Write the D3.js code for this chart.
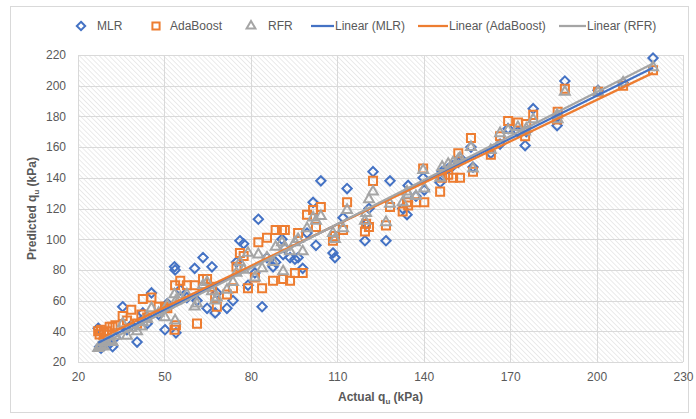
<!DOCTYPE html>
<html>
<head>
<meta charset="utf-8">
<script src="https://cdn.jsdelivr.net/npm/d3@7"></script>
<style>
  body { margin: 0; background: #fff; }
  svg { display: block; font-family: "Liberation Sans", Arial, sans-serif; }
</style>
</head>
<body>
<div id="chart"></div>
<script>
// Actual vs predicted qu (kPa) for the three models
const actual = [27, 27.5, 28, 29, 30, 31, 32, 33, 35.5, 37, 38.5, 40.5, 42, 42.5, 44, 45.5, 48, 50.2, 51, 53.5,
  53.7, 54, 55.5, 57.8, 60.5, 61.3, 63.4, 64.8, 66.5, 67.6, 68.2, 71.7, 73.8, 75, 76.2, 77.5, 79, 81.4, 82.6, 83.9,
  85.6, 87.7, 88.6, 90.8, 91.2, 91.8, 93.6, 95.3, 96.4, 98, 99.5, 101.6, 102.6, 104.3, 108.5, 109.2, 112, 113.4, 119.6, 120,
  121, 122.4, 126.9, 128.3, 132.7, 134.2, 134.6, 137.3, 139.8, 140.2, 145.7, 146.4, 148.5, 150.2, 152.6, 152, 156.4, 157.1, 163.3, 166.5,
  169.3, 172.7, 175.2, 175.6, 178, 186.3, 186.5, 189, 200.5, 209.2, 219.6];
const mlr = [42, 30, 29, 31, 33, 32, 30, 36, 56, 41, 44, 33, 47, 52, 45, 65, 51, 41, 58, 82,
  80, 39, 67, 62, 81, 60, 88, 55, 82, 52, 65, 55, 60, 85, 99, 97, 70, 78, 113, 56,
  88, 82, 85, 100, 90, 94, 88, 87, 88, 81, 104, 124, 96, 138, 91, 88, 114, 133, 99, 110,
  120, 144, 99, 138, 120, 116, 135, 128, 140, 132, 137, 144, 146, 148, 153, 150, 160, 147, 156, 162,
  172, 170, 161, 170, 185, 174, 180, 203, 197, 202, 218];
const adaboost = [40, 38, 41, 39, 40, 43, 43, 44, 50, 47, 54, 45, 51, 61, 49, 62, 56, 56, 55, 41,
  70, 44, 73, 70, 70, 45, 74, 74, 69, 62, 56, 64, 68, 82, 91, 89, 68, 75, 98, 68,
  101, 73, 106, 106, 74, 106, 73, 78, 104, 78, 116, 119, 108, 121, 99, 102, 106, 124, 105, 110,
  108, 138, 109, 121, 118, 124, 122, 124, 146, 124, 131, 140, 142, 140, 140, 156, 166, 144, 155, 167,
  177, 176, 167, 175, 181, 178, 183, 198, 196, 200, 210];
const rfr = [29, 30, 31, 30, 33, 34, 33, 37, 45, 37, 42, 40, 43, 46, 48, 55, 52, 49, 57, 64,
  47, 60, 62, 64, 56, 58, 70, 72, 66, 60, 62, 67, 72, 78, 85, 80, 91, 75, 90, 81,
  88, 85, 95, 98, 79, 95, 92, 98, 100, 92, 107, 114, 112, 115, 104, 100, 107, 119, 112, 117,
  126, 131, 111, 123, 124, 131, 129, 128, 145, 133, 140, 147, 149, 150, 153, 152, 160, 146, 158, 169,
  171, 173, 170, 172, 178, 181, 178, 196, 196, 202, 212];

const xTicks = [20, 50, 80, 110, 140, 170, 200, 230];
const yTicks = [20, 40, 60, 80, 100, 120, 140, 160, 180, 200, 220];
const seriesNames = ["MLR", "AdaBoost", "RFR"];
const seriesColors = ["#4472C4", "#ED7D31", "#A5A5A5"];

const W = 696, H = 419;
const margin = { top: 55, right: 13, bottom: 57, left: 78 };
const width = W - margin.left - margin.right;
const height = H - margin.top - margin.bottom;

const svg = d3.select("#chart").append("svg")
  .attr("width", W).attr("height", H);

// chart frame
svg.append("rect")
  .attr("x", 10.5).attr("y", 6.5)
  .attr("width", 678).attr("height", 406)
  .attr("fill", "#fff").attr("stroke", "#d9d9d9");

// diagonal hatch for plot area
const defs = svg.append("defs");
defs.append("pattern")
  .attr("id", "hatch")
  .attr("patternUnits", "userSpaceOnUse")
  .attr("width", 3.5).attr("height", 4)
  .attr("patternTransform", "rotate(-45)")
  .append("line")
  .attr("x1", 0).attr("y1", 0).attr("x2", 0).attr("y2", 4)
  .attr("stroke", "#d6d6d6").attr("stroke-width", 1);

const g = svg.append("g").attr("transform", `translate(${margin.left},${margin.top})`);

const x = d3.scaleLinear().domain([20, 230]).range([0, width]);
const y = d3.scaleLinear().domain([20, 220]).range([height, 0]);

g.append("rect")
  .attr("width", width).attr("height", height)
  .attr("fill", "url(#hatch)");

// gridlines
g.append("g")
  .selectAll("line").data(yTicks).join("line")
  .attr("x1", 0).attr("x2", width)
  .attr("y1", d => Math.round(y(d)) + 0.5).attr("y2", d => Math.round(y(d)) + 0.5)
  .attr("stroke", "#d9d9d9");
g.append("g")
  .selectAll("line").data(xTicks).join("line")
  .attr("y1", 0).attr("y2", height)
  .attr("x1", d => Math.round(x(d)) + 0.5).attr("x2", d => Math.round(x(d)) + 0.5)
  .attr("stroke", "#d9d9d9");

// axes (labels only)
const xAxis = g.append("g")
  .attr("transform", `translate(0,${height})`)
  .call(d3.axisBottom(x).tickValues(xTicks).tickSize(0).tickPadding(10));
const yAxis = g.append("g")
  .call(d3.axisLeft(y).tickValues(yTicks).tickSize(0).tickPadding(12));
[xAxis, yAxis].forEach(a => {
  a.select(".domain").remove();
  a.selectAll("text").attr("fill", "#595959").attr("font-size", 12)
    .attr("font-family", "'Liberation Sans', Arial, sans-serif");
});

// axis titles
const xTitle = svg.append("text")
  .attr("x", margin.left + width / 2).attr("y", 401)
  .attr("text-anchor", "middle")
  .attr("font-size", 12).attr("font-weight", "bold").attr("fill", "#595959");
xTitle.append("tspan").text("Actual q");
xTitle.append("tspan").attr("font-size", 8).attr("dy", 3).text("u");
xTitle.append("tspan").attr("dy", -3).text(" (kPa)");

const yTitle = svg.append("text")
  .attr("transform", `translate(36,${margin.top + height / 2}) rotate(-90)`)
  .attr("text-anchor", "middle")
  .attr("font-size", 12).attr("font-weight", "bold").attr("fill", "#595959");
yTitle.append("tspan").text("Predicted q");
yTitle.append("tspan").attr("font-size", 8).attr("dy", 3).text("u");
yTitle.append("tspan").attr("dy", -3).text(" (kPa)");

// markers
const symbolTypes = [d3.symbolDiamond2, d3.symbolSquare2, d3.symbolTriangle2];
const symbolSizes = [56, 82, 70];
const predicted = [mlr, adaboost, rfr];

predicted.forEach((vals, i) => {
  const pts = actual.map((a, k) => ({ a, p: vals[k] }));
  g.append("g")
    .selectAll("path").data(pts).join("path")
    .attr("transform", d => `translate(${x(d.a)},${y(d.p)})`)
    .attr("d", d3.symbol().type(symbolTypes[i]).size(symbolSizes[i]))
    .attr("fill", "none")
    .attr("stroke", seriesColors[i])
    .attr("stroke-width", 2);
});

// linear trendlines (least squares, as in Excel)
predicted.forEach((vals, i) => {
  const mx = d3.mean(actual), my = d3.mean(vals);
  const sxy = d3.sum(actual, (a, k) => (a - mx) * (vals[k] - my));
  const sxx = d3.sum(actual, a => (a - mx) ** 2);
  const slope = sxy / sxx, icpt = my - slope * mx;
  const x0 = d3.min(actual), x1 = d3.max(actual);
  g.append("line")
    .attr("x1", x(x0)).attr("y1", y(icpt + slope * x0))
    .attr("x2", x(x1)).attr("y2", y(icpt + slope * x1))
    .attr("stroke", seriesColors[i]).attr("stroke-width", 2.25);
});

// legend
const legendY = 26;
const legendItems = [
  { kind: "marker", i: 0, sx: 81, tx: 97, label: "MLR" },
  { kind: "marker", i: 1, sx: 156, tx: 170, label: "AdaBoost" },
  { kind: "marker", i: 2, sx: 251, tx: 268, label: "RFR" },
  { kind: "line", i: 0, sx: 311, tx: 335, label: "Linear (MLR)" },
  { kind: "line", i: 1, sx: 418, tx: 449, label: "Linear (AdaBoost)" },
  { kind: "line", i: 2, sx: 559, tx: 587, label: "Linear (RFR)" }
];
const legend = svg.append("g");
legendItems.forEach(it => {
  if (it.kind === "marker") {
    legend.append("path")
      .attr("transform", `translate(${it.sx},${legendY})`)
      .attr("d", d3.symbol().type(symbolTypes[it.i]).size(symbolSizes[it.i] * 0.8))
      .attr("fill", "none").attr("stroke", seriesColors[it.i]).attr("stroke-width", 2);
  } else {
    legend.append("line")
      .attr("x1", it.sx).attr("x2", it.tx - 1)
      .attr("y1", legendY).attr("y2", legendY)
      .attr("stroke", seriesColors[it.i]).attr("stroke-width", 2.25);
  }
  legend.append("text")
    .attr("x", it.tx).attr("y", legendY + 4)
    .attr("font-size", 12).attr("fill", "#595959")
    .text(it.label);
});
</script>
</body>
</html>
